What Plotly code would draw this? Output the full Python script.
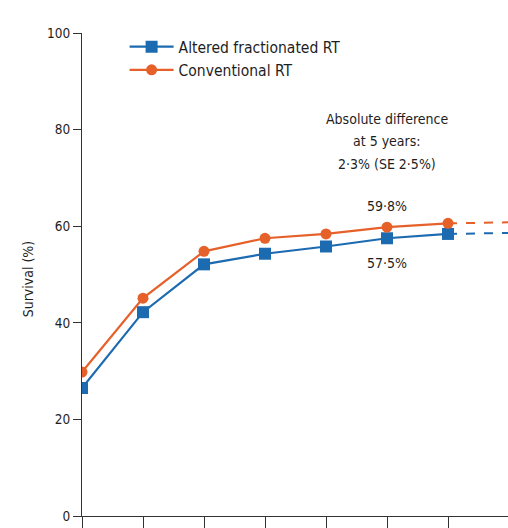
import plotly.graph_objects as go

# Survival by year of follow-up
years = [0, 1, 2, 3, 4, 5, 6]
altered = [26.5, 42.2, 52.1, 54.3, 55.8, 57.5, 58.4]
conventional = [29.8, 45.1, 54.8, 57.5, 58.4, 59.8, 60.6]
# dashed continuation past the last observed point
ext_years = [6, 7]
altered_ext = [58.4, 58.6]
conventional_ext = [60.6, 60.8]

difference_lines = ["Absolute difference", "at 5 years:", "2·3% (SE 2·5%)"]

blue = "#1c6bb0"
orange = "#e6602a"
font_family = "DejaVu Sans Condensed, Liberation Sans Narrow, sans-serif"
ink = "#1e1e1e"

fig = go.Figure()

fig.add_trace(go.Scatter(
    x=ext_years, y=altered_ext, mode="lines", showlegend=False,
    line=dict(color=blue, width=2, dash="dash"), hoverinfo="skip"))
fig.add_trace(go.Scatter(
    x=ext_years, y=conventional_ext, mode="lines", showlegend=False,
    line=dict(color=orange, width=2, dash="dash"), hoverinfo="skip"))

fig.add_trace(go.Scatter(
    x=years, y=altered, mode="lines+markers", name="Altered fractionated RT",
    line=dict(color=blue, width=2.2),
    marker=dict(symbol="square", size=12, color=blue)))
fig.add_trace(go.Scatter(
    x=years, y=conventional, mode="lines+markers", name="Conventional RT",
    line=dict(color=orange, width=2.2),
    marker=dict(symbol="circle", size=11, color=orange)))

annotations = [
    dict(x=5, y=conventional[5], text=f"{conventional[5]:.1f}%".replace(".", "·"),
         showarrow=False, yshift=21, font=dict(size=14, color=ink, family=font_family)),
    dict(x=5, y=altered[5], text=f"{altered[5]:.1f}%".replace(".", "·"),
         showarrow=False, yshift=-25, font=dict(size=14, color=ink, family=font_family)),
    dict(xref="paper", x=0, y=49, text="Survival (%)", textangle=-90,
         showarrow=False, xshift=-64,
         font=dict(size=14, color=ink, family=font_family)),
]
# three-line note, spaced a little wider than the default line height
for i, line in enumerate(difference_lines):
    annotations.append(dict(
        x=5, y=77.6, text=line, showarrow=False, yanchor="middle",
        yshift=(1 - i) * 22.5,
        font=dict(size=14, color=ink, family=font_family)))

fig.update_layout(
    width=508, height=528,
    margin=dict(l=82, r=0, t=33, b=12),
    paper_bgcolor="white", plot_bgcolor="white",
    font=dict(family=font_family, size=13, color=ink),
    showlegend=True,
    legend=dict(x=0.1, y=1.006, xanchor="left", yanchor="top",
                bgcolor="rgba(0,0,0,0)", itemwidth=44,
                font=dict(size=15.5, color=ink, family=font_family),
                tracegroupgap=0),
    annotations=annotations,
)

fig.update_xaxes(
    range=[0, 426 / 61], tickvals=list(range(0, 8)), ticktext=[""] * 8,
    showgrid=False, zeroline=False, showline=True, linecolor="#333",
    linewidth=1.2, ticks="outside", ticklen=12, tickcolor="#333", tickwidth=1.2)
fig.update_yaxes(
    range=[0, 100], tickvals=[0, 20, 40, 60, 80, 100],
    showgrid=False, zeroline=False, showline=True, linecolor="#333",
    linewidth=1.2, ticks="outside", ticklen=8, tickcolor="#333", tickwidth=1.2,
    tickfont=dict(size=13.5, color=ink, family=font_family))

fig.write_html("out.html")
